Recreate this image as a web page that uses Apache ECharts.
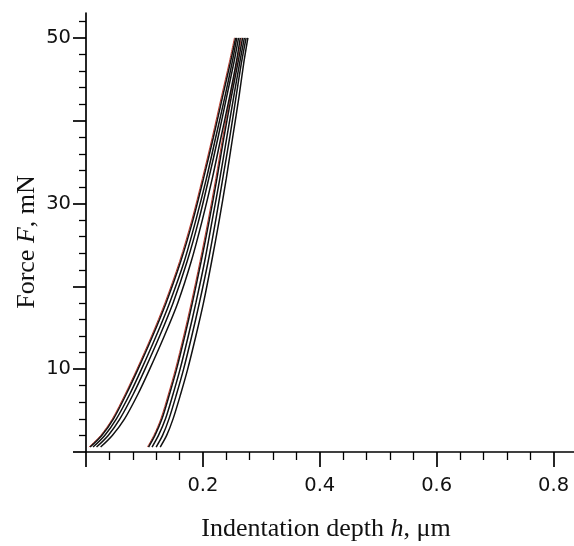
<!DOCTYPE html>
<html><head><meta charset="utf-8">
<script src="https://cdn.jsdelivr.net/npm/echarts@6/dist/echarts.min.js"></script>
<style>html,body{margin:0;padding:0;background:#fff}#c{width:574px;height:546px}</style>
</head><body><div id="c"></div>
<script>
// Force levels (mN) at which the depth of each curve was read
const forceLevels = [0.6, 2, 4, 7, 10, 14, 18, 23, 28, 33, 38, 43, 47, 50];
// Loading curves: indentation depth h (um)
const loadRed = [0.005, 0.025, 0.045, 0.067, 0.087, 0.112, 0.135, 0.160, 0.181, 0.199, 0.216, 0.232, 0.245, 0.254];
const load1 = [0.007, 0.027, 0.047, 0.069, 0.089, 0.114, 0.137, 0.162, 0.183, 0.201, 0.218, 0.234, 0.247, 0.256];
const load2 = [0.012, 0.032, 0.052, 0.075, 0.095, 0.120, 0.143, 0.168, 0.188, 0.206, 0.222, 0.238, 0.250, 0.258];
const load3 = [0.018, 0.038, 0.058, 0.081, 0.101, 0.126, 0.149, 0.173, 0.193, 0.210, 0.226, 0.241, 0.253, 0.261];
const load4 = [0.025, 0.045, 0.066, 0.089, 0.109, 0.134, 0.157, 0.180, 0.199, 0.216, 0.231, 0.246, 0.257, 0.264];
// Unloading curves: indentation depth h (um)
const unloadRed = [0.105, 0.116, 0.128, 0.141, 0.153, 0.167, 0.180, 0.195, 0.209, 0.222, 0.234, 0.247, 0.258, 0.266];
const unload1 = [0.107, 0.118, 0.130, 0.143, 0.155, 0.169, 0.182, 0.197, 0.211, 0.224, 0.236, 0.249, 0.260, 0.268];
const unload2 = [0.113, 0.124, 0.136, 0.149, 0.161, 0.175, 0.188, 0.203, 0.216, 0.229, 0.241, 0.253, 0.263, 0.271];
const unload3 = [0.120, 0.131, 0.142, 0.155, 0.167, 0.181, 0.194, 0.209, 0.222, 0.234, 0.246, 0.257, 0.266, 0.274];
const unload4 = [0.127, 0.138, 0.149, 0.162, 0.174, 0.188, 0.201, 0.215, 0.228, 0.240, 0.251, 0.262, 0.270, 0.277];

// Axis ticks and labels
const xMajorTicks = [0, 0.2, 0.4, 0.6, 0.8];
const xMinorTicks = [0.04, 0.08, 0.12, 0.16, 0.24, 0.28, 0.32, 0.36, 0.44, 0.48, 0.52, 0.56, 0.64, 0.68, 0.72, 0.76, 0.84];
const xTickLabels = [0.2, 0.4, 0.6, 0.8];
const yMajorTicks = [0, 10, 20, 30, 40, 50];
const yMinorTicks = [2, 4, 6, 8, 12, 14, 16, 18, 22, 24, 26, 28, 32, 34, 36, 38, 42, 44, 46, 48, 52];
const yTickLabels = [10, 30, 50];

const pairs = h => h.map((v, i) => [v, forceLevels[i]]);
const curve = (h, color, width, z) => ({
  type: 'line', data: pairs(h), showSymbol: false, smooth: 0.3, silent: true, z: z,
  lineStyle: { color: color, width: width }
});

const axisCol = '#000';
const labelFont = { fontFamily: 'DejaVu Sans, sans-serif', fontSize: 19.5, color: '#111' };
const serif = 'Liberation Serif, serif';

const chart = echarts.init(document.getElementById('c'), null, { renderer: 'canvas' });
chart.setOption({
  animation: false,
  backgroundColor: '#fff',
  grid: { left: 86, right: 0, top: 13, bottom: 94, containLabel: false },
  xAxis: [{
    type: 'value', min: 0, max: 0.835, position: 'bottom',
    axisLine: { show: true, onZero: false, lineStyle: { color: axisCol, width: 1.7 } },
    axisTick: { show: true, inside: false, length: 15, customValues: xMajorTicks, lineStyle: { color: axisCol, width: 1.7 } },
    axisLabel: Object.assign({ customValues: xTickLabels, margin: 24, formatter: v => v.toFixed(1) }, labelFont),
    splitLine: { show: false }
  }, {
    type: 'value', min: 0, max: 0.835, position: 'bottom', gridIndex: 0,
    axisLine: { show: false },
    axisTick: { show: true, inside: false, length: 8, customValues: xMinorTicks, lineStyle: { color: axisCol, width: 1.3 } },
    axisLabel: { show: false },
    splitLine: { show: false }
  }],
  yAxis: [{
    type: 'value', min: 0, max: 53, position: 'left',
    axisLine: { show: true, onZero: false, lineStyle: { color: axisCol, width: 1.7 } },
    axisTick: { show: true, inside: false, length: 13, customValues: yMajorTicks, lineStyle: { color: axisCol, width: 1.7 } },
    axisLabel: Object.assign({ customValues: yTickLabels, margin: 15 }, labelFont),
    splitLine: { show: false }
  }, {
    type: 'value', min: 0, max: 53, position: 'left',
    axisLine: { show: false },
    axisTick: { show: true, inside: false, length: 7, customValues: yMinorTicks, lineStyle: { color: axisCol, width: 1.3 } },
    axisLabel: { show: false },
    splitLine: { show: false }
  }],
  graphic: [{
    type: 'text', x: 326, y: 529, silent: true,
    style: {
      text: '{a|Indentation depth }{i|h}{a|, μm}',
      align: 'center', verticalAlign: 'middle',
      rich: {
        a: { fontFamily: serif, fontSize: 26, fill: '#111' },
        i: { fontFamily: serif, fontSize: 26, fontStyle: 'italic', fill: '#111' }
      }
    }
  }, {
    type: 'text', x: 27, y: 242, rotation: Math.PI / 2, silent: true,
    style: {
      text: '{a|Force }{i|F}{a|, mN}',
      align: 'center', verticalAlign: 'middle',
      rich: {
        a: { fontFamily: serif, fontSize: 26, fill: '#111' },
        i: { fontFamily: serif, fontSize: 26, fontStyle: 'italic', fill: '#111' }
      }
    }
  }],
  series: [
    curve(loadRed, '#c0392b', 1, 2),
    curve(load1, '#111', 1.5, 3),
    curve(load2, '#111', 1.5, 3),
    curve(load3, '#111', 1.5, 3),
    curve(load4, '#111', 1.5, 3),
    curve(unloadRed, '#c0392b', 1, 2),
    curve(unload1, '#111', 1.5, 3),
    curve(unload2, '#111', 1.5, 3),
    curve(unload3, '#111', 1.5, 3),
    curve(unload4, '#111', 1.5, 3)
  ]
});
</script>
</body></html>
